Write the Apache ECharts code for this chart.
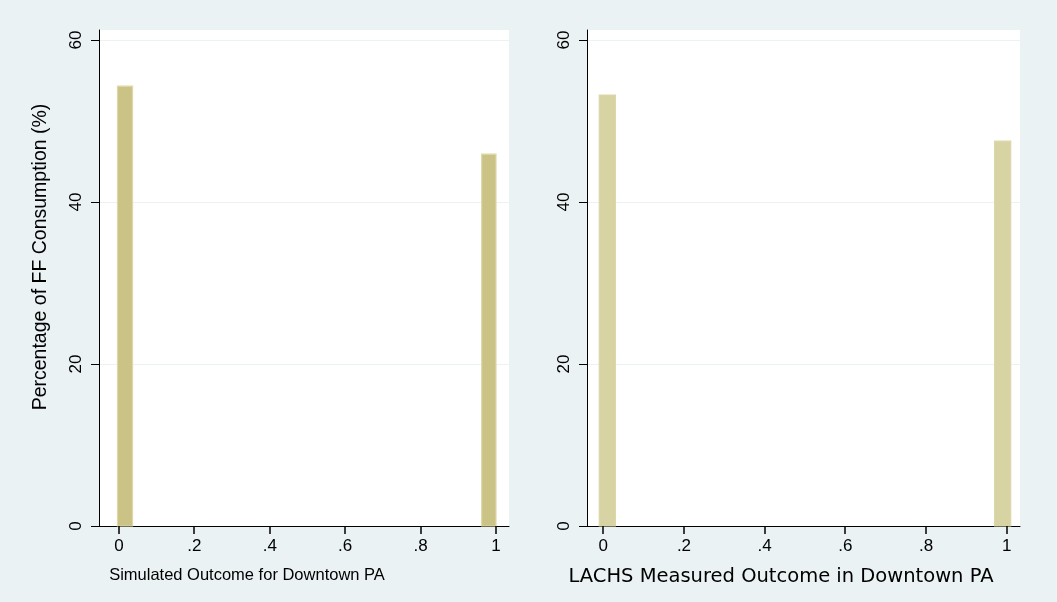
<!DOCTYPE html>
<html>
<head>
<meta charset="utf-8">
<script src="https://cdn.jsdelivr.net/npm/echarts@6/dist/echarts.min.js"></script>
<style>
html,body{margin:0;padding:0;background:#EAF2F3;}
#chart{width:1057px;height:602px;}
</style>
</head>
<body>
<div id="chart"></div>
<script>
// ---- data ----
const xTickValues = [0, 0.2, 0.4, 0.6, 0.8, 1];
const xTickLabels = ['0', '.2', '.4', '.6', '.8', '1'];
const yTickValues = [0, 20, 40, 60];
const yTickLabels = ['0', '20', '40', '60'];

const leftTitle = 'Simulated Outcome for Downtown PA';
const leftBinStart = [-0.004, 0.962];
const leftBinEnd = [0.036, 1.0];
const leftPct = [54.3, 45.9];

const rightTitle = 'LACHS Measured Outcome in Downtown PA';
const rightBinStart = [-0.01, 0.97];
const rightBinEnd = [0.03, 1.01];
const rightPct = [53.2, 47.5];

const yTitle = 'Percentage of FF Consumption (%)';

// ---- build ----
const FONT = '"Liberation Sans", Arial, sans-serif';
const WIDE = '"DejaVu Sans", sans-serif';
const gridColor = '#EAF2F3';

function rows(s, e, v) { return s.map((x, i) => [x, e[i], v[i]]); }

function xLabel(v) {
  const i = xTickValues.findIndex(t => Math.abs(t - v) < 1e-9);
  return i >= 0 ? xTickLabels[i] : '';
}
function yLabel(v) {
  const i = yTickValues.findIndex(t => Math.abs(t - v) < 1e-9);
  return i >= 0 ? yTickLabels[i] : '';
}

function xAxisCfg(idx, min, max, name, padRight, nameFont, nameSize) {
  return {
    type: 'value', gridIndex: idx, min: min, max: max,
    name: name, nameLocation: 'middle', nameGap: 41,
    nameTextStyle: { fontFamily: nameFont, fontSize: nameSize, color: '#000', padding: [0, padRight, 0, 0] },
    axisLine: { show: true, onZero: false, lineStyle: { color: '#000', width: 1 } },
    axisTick: { show: false },
    axisLabel: { customValues: xTickValues, formatter: xLabel, margin: 12,
      fontFamily: FONT, fontSize: 17, color: '#000' },
    splitLine: { show: false }
  };
}
function yAxisCfg(idx, name) {
  const cfg = {
    type: 'value', gridIndex: idx, min: 0, max: 61.23,
    axisLine: { show: true, onZero: false, lineStyle: { color: '#000', width: 1 } },
    axisTick: { show: true, inside: false, length: 8, customValues: yTickValues, lineStyle: { color: '#000', width: 1 } },
    axisLabel: { customValues: yTickValues, formatter: yLabel, rotate: 90, margin: 14,
      fontFamily: FONT, fontSize: 17, color: '#000' },
    splitLine: { show: true, lineStyle: { color: gridColor, width: 1 } }
  };
  if (name) {
    cfg.name = name;
    cfg.nameLocation = 'middle';
    cfg.nameGap = 48;
    cfg.nameTextStyle = { fontFamily: FONT, fontSize: 19.5, color: '#000', padding: [0, 0, 0, 42] };
  }
  return cfg;
}

function renderBar(fill, stroke) {
  return function (params, api) {
    const p0 = api.coord([api.value(0), api.value(2)]);
    const p1 = api.coord([api.value(1), 0]);
    return {
      type: 'rect',
      shape: { x: p0[0], y: p0[1], width: p1[0] - p0[0], height: p1[1] - p0[1] },
      style: { fill: fill, stroke: stroke, lineWidth: 1.2 }
    };
  };
}

// x-axis tick marks, placed through the axis scale
function renderXTick(params, api) {
  const p = api.coord([api.value(0), 0]);
  return {
    type: 'rect',
    shape: { x: Math.round(p[0]) - 0.75, y: p[1], width: 1.5, height: 8 },
    style: { fill: '#000' }
  };
}

const option = {
  backgroundColor: '#EAF2F3',
  animation: false,
  grid: [
    { left: 99, right: 548, top: 30, bottom: 76, show: true, backgroundColor: '#fff', borderWidth: 0 },
    { left: 587, right: 37, top: 30, bottom: 76, show: true, backgroundColor: '#fff', borderWidth: 0 }
  ],
  xAxis: [
    xAxisCfg(0, -0.053, 1.0345, leftTitle, 114, FONT, 16.5),
    xAxisCfg(1, -0.0404, 1.033, rightTitle, 45, WIDE, 19.5)
  ],
  yAxis: [
    yAxisCfg(0, yTitle),
    yAxisCfg(1, null)
  ],
  series: [
    { type: 'custom', xAxisIndex: 0, yAxisIndex: 0, data: rows(leftBinStart, leftBinEnd, leftPct),
      encode: { x: [0, 1], y: 2 }, renderItem: renderBar('#CBC385', '#DDD7AA') },
    { type: 'custom', xAxisIndex: 1, yAxisIndex: 1, data: rows(rightBinStart, rightBinEnd, rightPct),
      encode: { x: [0, 1], y: 2 }, renderItem: renderBar('#D8D3A2', '#DCD7AA') },
    { type: 'custom', xAxisIndex: 0, yAxisIndex: 0, clip: false, silent: true, z: 5,
      data: xTickValues.map(v => [v, 0]), encode: { x: 0, y: 1 }, renderItem: renderXTick },
    { type: 'custom', xAxisIndex: 1, yAxisIndex: 1, clip: false, silent: true, z: 5,
      data: xTickValues.map(v => [v, 0]), encode: { x: 0, y: 1 }, renderItem: renderXTick }
  ]
};

const chart = echarts.init(document.getElementById('chart'), null, { renderer: 'canvas' });
chart.setOption(option);
</script>
</body>
</html>
